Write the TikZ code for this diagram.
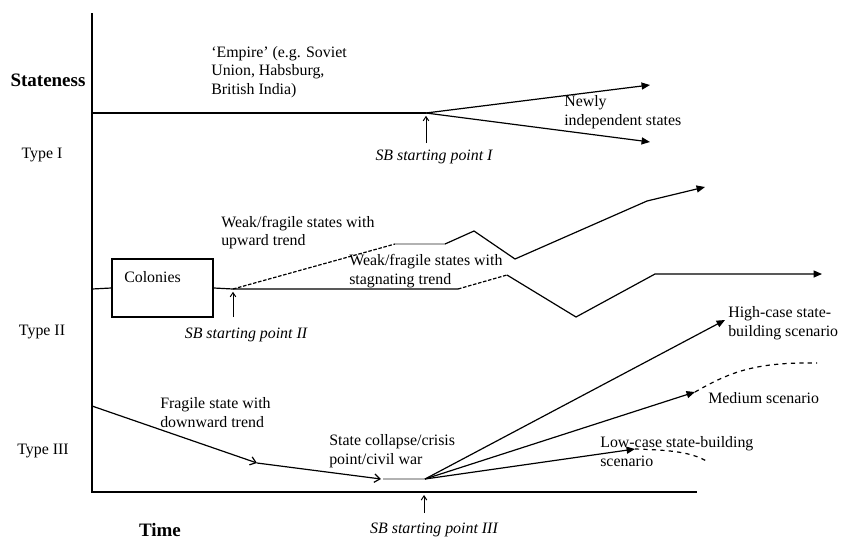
\documentclass[tikz,border=0pt]{standalone}
\usepackage{fontspec}
\setmainfont{Liberation Serif}
\usetikzlibrary{arrows.meta,positioning}
\begin{document}
\begin{tikzpicture}[x=0.025cm,y=-0.025cm,
  every node/.style={inner sep=0pt,font=\fontsize{11.3}{13.2}\selectfont},
  lbl/.style={anchor=west,align=left},
  sblbl/.style={font=\fontsize{11.3}{13.2}\selectfont\itshape},
  axis/.style={line width=1.3pt},
  trend/.style={line width=0.85pt},
  head/.style={-{Triangle[length=6pt,width=5pt]}},
  openhead/.style={-{Straight Barb[length=4pt,width=6pt]}},
  sbarrow/.style={line width=0.7pt,-{Straight Barb[length=3pt,width=4pt]}},
  fine/.style={dash pattern=on 2.5pt off 1.2pt},
  greyseg/.style={gray!60,line width=1.2pt}]
\useasboundingbox (0,0) rectangle (845,539);

\coordinate (ytop) at (92,13);
\coordinate (O) at (92,492);
\coordinate (xend) at (697,492);
\draw[axis] (ytop) -- (O) -- (xend);

\node[font=\fontsize{13.5}{16}\selectfont\bfseries] (stateness) at (48,80) {Stateness};
\node (type1) at (42,155) {Type I};
\node (type2) at (42,332) {Type II};
\node (type3) at (43,451) {Type III};
\node[font=\fontsize{13.5}{16}\selectfont\bfseries,anchor=base] (time) at (160,536) {Time};

% type I
\coordinate (e0) at (92,113);
\coordinate (sb1) at (426,113);
\coordinate (nUp) at (650,85);
\coordinate (nDown) at (650,142);
\draw[trend] (e0) -- (sb1);
\draw[trend,head] (sb1) -- (nUp);
\draw[trend,head] (sb1) -- (nDown);
\node[lbl] (empire) at (211,72) {`Empire' (e.g. Soviet\\Union, Habsburg,\\British India)};
\node[lbl] (newly) at (564,112) {Newly\\independent states};
\node[sblbl] (sbI) at (434,157) {SB starting point I};
\draw[sbarrow] (426,143) -- ([yshift=-2pt]sb1);

% type II
\node[draw,line width=1pt,minimum width=2.525cm,minimum height=1.45cm] (colbox) at (162.5,288) {};
\node[lbl] (coltext) at (124,277) {Colonies};
\coordinate (c0) at (92,289);
\coordinate (sb2) at (233,289);
\coordinate (up1) at (395,244);
\coordinate (up2) at (445,244);
\coordinate (up3) at (474,231);
\coordinate (up4) at (515,259);
\coordinate (up5) at (647,201);
\coordinate (up6) at (705,187);
\coordinate (st1) at (458,289);
\coordinate (st2) at (507,275);
\coordinate (st3) at (576,317);
\coordinate (st4) at (655,274);
\coordinate (st5) at (822,274);
\draw[trend] (c0) -- (colbox.west);
\draw[trend] (colbox.east) -- (sb2) -- (st1);
\draw[trend,fine] (sb2) -- (up1);
\draw[greyseg] (up1) -- (up2);
\draw[trend,head] (up2) -- (up3) -- (up4) -- (up5) -- (up6);
\draw[trend,fine] (st1) -- (st2);
\draw[trend,head] (st2) -- (st3) -- (st4) -- (st5);
\node[lbl] (weakup) at (221,232.5) {Weak/fragile states with\\upward trend};
\node[lbl] (weakst) at (349,271) {Weak/fragile states with\\stagnating trend};
\node[sblbl] (sbII) at (246,335) {SB starting point II};
\draw[sbarrow] (233,317) -- ([yshift=-2pt]sb2);

% type III
\coordinate (d0) at (92,406);
\coordinate (d1) at (257,463);
\coordinate (d2) at (381,479);
\coordinate (d3) at (383,479);
\coordinate (crisis) at (425,479);
\coordinate (high) at (725,320);
\coordinate (medium) at (695,392);
\coordinate (low) at (635,449);
\draw[trend,openhead] (d0) -- (d1);
\draw[trend,openhead] (d1) -- (d2);
\draw[greyseg] (d3) -- (crisis);
\draw[trend,head] (crisis) -- (high);
\draw[trend,head] (crisis) -- (medium);
\draw[trend,head] (crisis) -- (low);
\draw[trend,dashed] (medium) .. controls (730,372) and (755,362) .. (817,363);
\draw[trend,dashed] (low) .. controls (670,450) and (692,452) .. (708,462);
\node[lbl] (fragile) at (160,412.5) {Fragile state with\\downward trend};
\node[lbl] (collapse) at (329,451) {State collapse/crisis\\point/civil war};
\node[lbl] (highcase) at (728,323) {High-case state-\\building scenario};
\node[lbl] (medcase) at (708,398) {Medium scenario};
\node[lbl] (lowcase) at (600,451.5) {Low-case state-building\\scenario};
\node[sblbl,anchor=base] (sbIII) at (434,533) {SB starting point III};
\draw[sbarrow] (424,513) -- (424,495);
\end{tikzpicture}
\end{document}
